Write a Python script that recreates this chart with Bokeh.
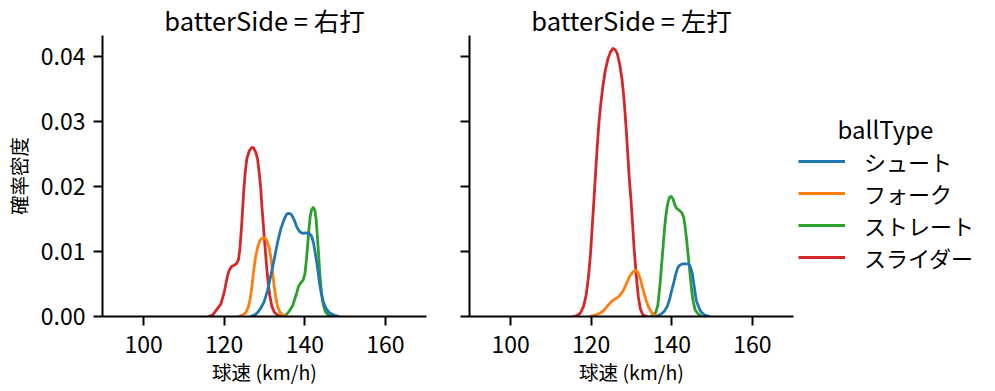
from bokeh.plotting import figure
from bokeh.layouts import row
from bokeh.models import Range1d, Legend, LegendItem, Label, NumeralTickFormatter
from bokeh.embed import file_html
from bokeh.resources import INLINE

FONT = "Noto Sans CJK JP"

x_ticks = [100, 120, 140, 160]
y_ticks = [0.0, 0.01, 0.02, 0.03, 0.04]
ball_types = ["シュート", "フォーク", "ストレート", "スライダー"]
colors = ["#1f77b4", "#ff7f0e", "#2ca02c", "#d62728"]
sides = ["右打", "左打"]
legend_title = "ballType"

# ---- batterSide = 右打 (density curves) ----
r_shoot_x = [126.5, 127.5, 128.27, 129.09, 129.92, 130.75, 131.57, 132.4, 133.23, 134.05, 134.88, 135.54, 136.12,
             136.7, 137.36, 138.02, 138.68, 139.42, 140.25, 141.08, 141.66, 142.15, 142.65, 143.14, 143.64,
             144.14, 144.63, 145.21, 146.04, 147.28, 148.5]
r_shoot_y = [0.0, 0.0002, 0.0006, 0.0013, 0.0023, 0.0040, 0.0063, 0.0088, 0.0114, 0.0135, 0.0150, 0.0158, 0.0159,
             0.0157, 0.0149, 0.0138, 0.0131, 0.0128, 0.0129, 0.0128, 0.0124, 0.0114, 0.0096, 0.0076, 0.0052,
             0.0034, 0.0022, 0.0013, 0.0006, 0.0002, 0.0]
r_fork_x = [123.5, 124.55, 125.37, 125.95, 126.45, 126.86, 127.27, 127.69, 128.27, 128.84, 129.5, 130.08, 130.58,
            131.16, 131.57, 131.99, 132.4, 132.81, 133.23, 133.8, 134.71, 135.5]
r_fork_y = [0.0, 0.0002, 0.0006, 0.0014, 0.0027, 0.0045, 0.0068, 0.0088, 0.0106, 0.0117, 0.0121, 0.0121, 0.0117,
            0.0106, 0.0091, 0.0070, 0.0047, 0.0029, 0.0016, 0.0007, 0.0002, 0.0]
r_straight_x = [134.5, 135.29, 136.12, 136.95, 137.52, 138.02, 138.43, 139.01, 139.59, 140.0, 140.33, 140.66,
                140.99, 141.32, 141.66, 142.07, 142.48, 142.81, 143.14, 143.47, 143.8, 144.14, 144.55, 145.05,
                145.79, 146.8]
r_straight_y = [0.0, 0.0002, 0.0008, 0.0016, 0.0027, 0.0037, 0.0046, 0.0052, 0.0056, 0.0065, 0.0083, 0.0106,
                0.0132, 0.0153, 0.0164, 0.0168, 0.0164, 0.0150, 0.0122, 0.0091, 0.0060, 0.0037, 0.0019, 0.0008,
                0.0002, 0.0]
r_slider_x = [116.0, 117.11, 119.17, 120.0, 120.41, 120.83, 121.24, 121.82, 122.48, 123.14, 123.56, 123.89, 124.13,
              124.38, 124.63, 124.88, 125.21, 125.62, 126.2, 126.78, 127.27, 127.85, 128.27, 128.68, 129.09,
              129.34, 129.67, 129.92, 130.25, 130.58, 130.91, 131.32, 131.82, 132.4, 133.23, 134.5]
r_slider_y = [0.0, 0.0002, 0.0019, 0.0037, 0.0050, 0.0063, 0.0071, 0.0077, 0.0079, 0.0082, 0.0088, 0.0104, 0.0124,
              0.0145, 0.0171, 0.0196, 0.0222, 0.0243, 0.0255, 0.0260, 0.0260, 0.0253, 0.0243, 0.0222, 0.0196,
              0.0171, 0.0145, 0.0124, 0.0099, 0.0073, 0.0052, 0.0032, 0.0016, 0.0007, 0.0002, 0.0]

# ---- batterSide = 左打 ----
l_shoot_x = [136.17, 137.41, 138.24, 138.9, 139.48, 139.97, 140.47, 140.97, 141.46, 141.96, 142.62, 143.45, 144.11,
             144.61, 145.11, 145.7, 146.1, 146.9, 147.3, 148.2, 149.4]
l_shoot_y = [0.0, 0.0004, 0.0009, 0.0016, 0.0027, 0.0040, 0.0052, 0.0065, 0.0075, 0.0079, 0.0081, 0.0081, 0.0081,
             0.0077, 0.0066, 0.0040, 0.0024, 0.0011, 0.0007, 0.0002, 0.0]
l_fork_x = [119.6, 121.0, 122.1, 122.92, 123.75, 124.58, 125.4, 126.23, 127.06, 127.89, 128.71, 129.54, 130.37,
            131.03, 131.61, 132.19, 132.85, 133.52, 134.18, 134.92, 135.75, 136.58]
l_fork_y = [0.0, 0.0002, 0.0005, 0.0008, 0.0014, 0.0020, 0.0025, 0.0028, 0.0032, 0.0039, 0.0050, 0.0062, 0.0069,
            0.0071, 0.0068, 0.0058, 0.0042, 0.0027, 0.0015, 0.0007, 0.0002, 0.0]
l_straight_x = [134.51, 135.34, 136.0, 136.49, 136.83, 137.16, 137.49, 137.82, 138.15, 138.48, 138.81, 139.14,
                139.48, 139.89, 140.3, 140.72, 141.13, 141.79, 142.46, 142.95, 143.28, 143.61, 143.95, 144.28,
                144.61, 144.94, 145.27, 145.8, 146.5, 147.5]
l_straight_y = [0.0, 0.0002, 0.0006, 0.0016, 0.0034, 0.0055, 0.0081, 0.0106, 0.0132, 0.0153, 0.0168, 0.0178,
                0.0184, 0.0185, 0.0181, 0.0173, 0.0167, 0.0164, 0.0160, 0.0153, 0.0140, 0.0122, 0.0101, 0.0081,
                0.0060, 0.0040, 0.0024, 0.0010, 0.0004, 0.0]
l_slider_x = [115.5, 116.3, 117.29, 118.12, 118.78, 119.36, 119.86, 120.27, 120.69, 121.1, 121.51, 121.93, 122.42,
              122.92, 123.5, 124.16, 124.74, 125.4, 125.98, 126.48, 127.06, 127.64, 128.14, 128.63, 129.05,
              129.46, 129.87, 130.29, 130.7, 131.2, 131.69, 132.19, 132.85, 134.0]
l_slider_y = [0.0, 0.0001, 0.0005, 0.0016, 0.0034, 0.0063, 0.0099, 0.0140, 0.0181, 0.0222, 0.0263, 0.0299, 0.0330,
              0.0356, 0.0379, 0.0397, 0.0407, 0.0413, 0.0411, 0.0405, 0.0389, 0.0366, 0.0335, 0.0294, 0.0253,
              0.0212, 0.0180, 0.0140, 0.0100, 0.0062, 0.0031, 0.0012, 0.0002, 0.0]

panel_curves = [
    [(r_shoot_x, r_shoot_y), (r_fork_x, r_fork_y), (r_straight_x, r_straight_y), (r_slider_x, r_slider_y)],
    [(l_shoot_x, l_shoot_y), (l_fork_x, l_fork_y), (l_straight_x, l_straight_y), (l_slider_x, l_slider_y)],
]

LINE_W = 2.8
FRAME_H = 281


def make_fig(idx):
    first = idx == 0
    p = figure(frame_width=324, frame_height=FRAME_H,
               x_range=Range1d(89.8, 170.2), y_range=Range1d(0, 0.0433),
               output_backend="svg", toolbar_location=None,
               min_border_left=92 if first else 23,
               min_border_right=20 if first else 5,
               min_border_top=29, min_border_bottom=65)
    p.outline_line_color = None
    p.xgrid.visible = False
    p.ygrid.visible = False
    p.background_fill_color = "white"
    p.border_fill_color = "white"

    p.title.text = f"batterSide = {sides[idx]}"
    p.title.align = "center"
    p.title.text_font = FONT
    p.title.text_font_size = "25.5px"
    p.title.text_font_style = "normal"
    p.title.text_color = "black"
    p.title.standoff = -4

    for ax in (p.xaxis[0], p.yaxis[0]):
        ax.axis_line_width = 2
        ax.axis_line_color = "black"
        ax.major_tick_line_width = 2
        ax.major_tick_line_color = "black"
        ax.major_tick_out = 9
        ax.major_tick_in = 0
        ax.minor_tick_line_color = None
        ax.major_label_text_font = FONT
        ax.major_label_text_font_size = "23px"
        ax.major_label_text_color = "black"
        ax.axis_label_text_font = FONT
        ax.axis_label_text_font_size = "19.5px"
        ax.axis_label_text_font_style = "normal"
        ax.axis_label_text_color = "black"

    p.xaxis.ticker = x_ticks
    p.yaxis.ticker = y_ticks
    p.yaxis.formatter = NumeralTickFormatter(format="0.00")
    p.xaxis.axis_label = "球速 (km/h)"
    p.xaxis.major_label_standoff = 10
    p.xaxis.axis_label_standoff = 1
    if first:
        p.yaxis.axis_label = "確率密度"
        p.yaxis.major_label_standoff = 8
        p.yaxis.axis_label_standoff = 5
    else:
        p.yaxis.major_label_text_font_size = "0px"
        p.yaxis.major_label_text_color = None
        p.yaxis.major_label_standoff = 0

    for k in [3, 2, 1, 0]:
        xs, ys = panel_curves[idx][k]
        p.line(xs, ys, line_color=colors[k], line_width=LINE_W, line_join="round")
    return p


p1 = make_fig(0)
p2 = make_fig(1)

# legend panel (its own canvas so the centred title can sit above the entries);
# the row aligns its frame with the two panels' frames
p3 = figure(frame_width=191, frame_height=FRAME_H, x_range=Range1d(0, 191), y_range=Range1d(0, FRAME_H),
            output_backend="svg", toolbar_location=None,
            x_axis_location=None, y_axis_location=None,
            min_border_left=0, min_border_right=0, min_border_top=29, min_border_bottom=65)
p3.outline_line_color = None
p3.xgrid.visible = False
p3.ygrid.visible = False
p3.background_fill_color = "white"
p3.border_fill_color = "white"

proxies = []
for k in range(4):
    xs, ys = panel_curves[1][k]
    proxies.append(p3.line(xs, ys, line_color=colors[k], line_width=LINE_W, visible=False))

legend = Legend(
    items=[LegendItem(label=ball_types[k], renderers=[proxies[k]]) for k in range(4)],
    location=(0, 43), margin=0, padding=0,
    border_line_color=None, background_fill_alpha=0,
    label_text_font=FONT, label_text_font_size="22px", label_text_color="black",
    glyph_width=47, glyph_height=20, label_height=20, label_standoff=19, spacing=0,
)
p3.add_layout(legend)
p3.add_layout(Label(x=87, y=188, text=legend_title,
                    text_align="center", text_baseline="middle",
                    text_font=FONT, text_font_size="24px", text_color="black"))

layout = row(p1, p2, p3)
open("out.html", "w").write(file_html(layout, INLINE))
